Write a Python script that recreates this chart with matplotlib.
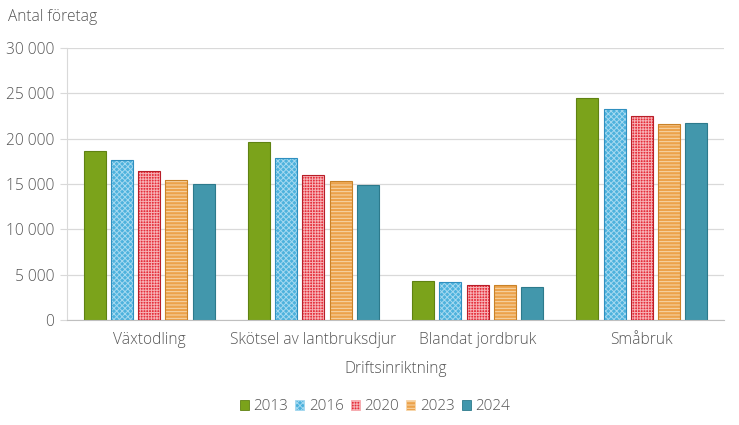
import matplotlib
matplotlib.use("Agg")
import matplotlib.pyplot as plt
import numpy as np
from matplotlib.patches import Patch

plt.rcParams['font.family'] = ['Open Sans', 'DejaVu Sans']
plt.rcParams['hatch.linewidth'] = 0.7

categories = ["Växtodling", "Skötsel av lantbruksdjur", "Blandat jordbruk", "Småbruk"]
years = ["2013", "2016", "2020", "2023", "2024"]
v2013 = [18600, 19600, 4300, 24500]
v2016 = [17700, 17900, 4200, 23300]
v2020 = [16400, 16000, 3900, 22500]
v2023 = [15400, 15300, 3850, 21600]
v2024 = [15000, 14900, 3600, 21700]
series = [v2013, v2016, v2020, v2023, v2024]

faces = ["#7ba31b", "#4db2dd", "#e52f3b", "#eca24b", "#4297ac"]
edges = ["#5f8212", "#2f8fbf", "#b81e28", "#c98228", "#2d7a8c"]
hatch_cols = [None, "#a5d9f0", "#f7b0b4", "#f8d8ad", None]
hatches = [None, "xxxxxx", "++++++", "-----", None]

text_col = "#555555"
grid_col = "#d9d9d9"
fs = 11.2

fig = plt.figure(figsize=(7.39, 4.25), dpi=100)
ax = fig.add_axes([67/739, 1-320/425, (724-67)/739, (320-48)/425])

x = np.arange(len(categories))
step = 0.166
width = 0.134
for i, vals in enumerate(series):
    pos = x + (i - 2) * step
    if hatches[i]:
        ax.bar(pos, vals, width, color=faces[i], edgecolor=hatch_cols[i], hatch=hatches[i],
               linewidth=0, zorder=2)
        ax.bar(pos, vals, width, facecolor="none", edgecolor=edges[i], linewidth=0.8, zorder=3)
    else:
        ax.bar(pos, vals, width, color=faces[i], edgecolor=edges[i], linewidth=0.8, zorder=2)

ax.set_xlim(-0.5, len(categories) - 0.5)
ax.set_ylim(0, 30000)
ticks = np.arange(0, 30001, 5000)
ax.set_yticks(ticks)
ax.set_yticklabels([f"{t:,}".replace(",", " ") for t in ticks])
ax.yaxis.grid(True, color=grid_col, linewidth=0.9, zorder=0)
ax.set_axisbelow(True)
ax.set_xticks(x)
ax.set_xticklabels(categories)

for s in ["top", "right"]:
    ax.spines[s].set_visible(False)
ax.spines["left"].set_color(grid_col)
ax.spines["bottom"].set_color("#bfbfbf")
ax.tick_params(axis="y", colors=grid_col, labelcolor=text_col, labelsize=fs, length=5, pad=4)
ax.tick_params(axis="x", length=0, labelcolor=text_col, labelsize=fs, pad=9)
for lab in ax.get_yticklabels() + ax.get_xticklabels():
    lab.set_fontweight("light")

ax.set_xlabel("Driftsinriktning", color=text_col, fontsize=fs, labelpad=9, fontweight="light")
fig.text(8/739, 1-17/425, "Antal företag", color=text_col, fontsize=fs, va="center", ha="left",
         fontweight="light")

handles = []
for i, y in enumerate(years):
    handles.append(Patch(facecolor=faces[i], edgecolor=hatch_cols[i] if hatches[i] else edges[i],
                         hatch=hatches[i], linewidth=0.6, label=y))
leg = fig.legend(handles=handles, loc="center", bbox_to_anchor=(375/739, 1-407/425), ncol=5,
                 frameon=False, handlelength=0.6, handleheight=0.6,
                 handletextpad=0.3, columnspacing=0.45, labelcolor=text_col,
                 prop={"weight": "light", "size": 11})

fig.savefig("out.png", dpi=100)
